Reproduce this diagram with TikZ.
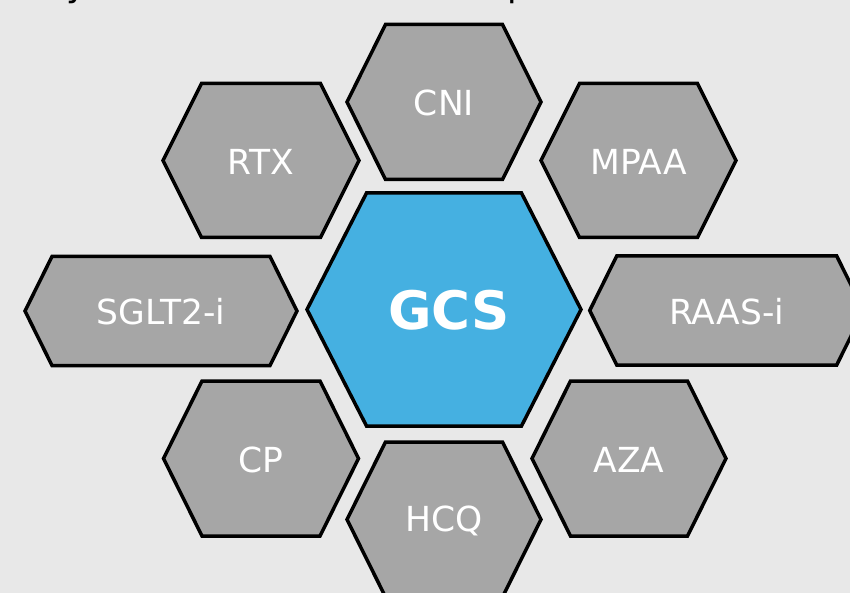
\documentclass[tikz,border=0pt]{standalone}
\usepackage{fontspec}
\setmainfont{DejaVu Sans}
\definecolor{bgc}{HTML}{E8E8E8}
\definecolor{hexgray}{HTML}{A6A6A6}
\definecolor{hexblue}{HTML}{45B0E1}
\newcommand{\hexnode}[8]{%
  \draw[hexline,#7] ({#2-#4},{#3}) -- ({#2-#4+#6},{#3-#5}) -- ({#2+#4-#6},{#3-#5}) -- ({#2+#4},{#3}) -- ({#2+#4-#6},{#3+#5}) -- ({#2-#4+#6},{#3+#5}) -- cycle;
  \node[hexlabel] (#1) at (#2,#3+1) {#8};}
\tikzset{
  hexline/.style={draw=black, line width=3.5pt, line join=miter},
  grayhex/.style={fill=hexgray},
  bluehex/.style={fill=hexblue},
  hexlabel/.style={text=white, inner sep=0pt, anchor=center, font=\fontsize{34.5}{40}\selectfont},
  titlefrag/.style={text=black, inner sep=0pt, anchor=base west, font=\fontsize{35}{40}\selectfont}
}
\begin{document}
\begin{tikzpicture}[x=1pt,y=-1pt]
\useasboundingbox (0,0) rectangle (850,593);
\clip (0,0) rectangle (850,593);
\fill[bgc] (0,0) rectangle (850,593);
% cut-off title fragments
\node[titlefrag] (t1) at (66,-3) {y};
\node[titlefrag] (t2) at (507,-3) {p};
% hexagons
\hexnode{cni}{444}{102}{97}{77.5}{38.5}{grayhex}{CNI}
\hexnode{rtx}{261}{160.5}{98}{77}{38.5}{grayhex}{RTX}
\hexnode{mpaa}{638.5}{160.5}{97.5}{77}{38.5}{grayhex}{MPAA}
\hexnode{sglt}{161}{311}{136}{54.5}{27}{grayhex}{SGLT2-i}
\hexnode{raas}{726.7}{310.5}{137}{54.5}{27}{grayhex}{RAAS-i}
\hexnode{cp}{261}{458.5}{97.5}{77.5}{38.5}{grayhex}{CP}
\hexnode{aza}{629}{458.5}{97}{77.5}{38.5}{grayhex}{AZA}
\hexnode{hcq}{444}{519.5}{97}{77.5}{38.5}{grayhex}{HCQ}
\hexnode{gcs}{444}{309.5}{137}{116.5}{59.5}{bluehex}{\hspace*{10pt}\fontsize{53}{60}\selectfont\bfseries GCS}
\end{tikzpicture}
\end{document}
